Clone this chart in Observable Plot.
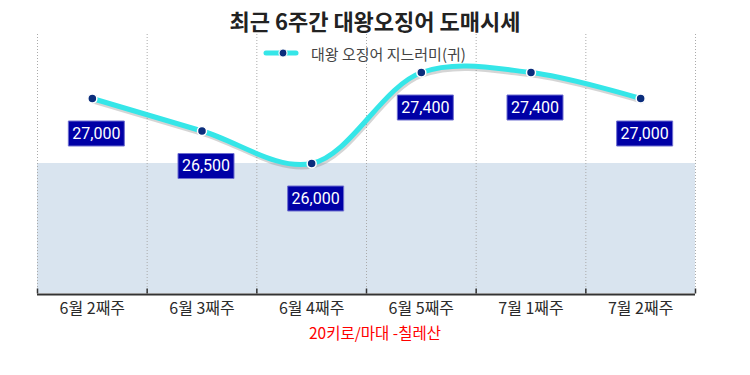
<!DOCTYPE html>
<html><head><meta charset="utf-8">
<script src="https://cdn.jsdelivr.net/npm/d3@7"></script>
<script src="https://cdn.jsdelivr.net/npm/@observablehq/plot@0.6"></script>
<style>
body{margin:0;background:#fff;font-family:"Noto Sans CJK KR","Noto Sans",sans-serif}
#wrap{position:relative;width:750px;height:375px;overflow:hidden}
#chart{position:absolute;left:0;top:0}
#title{position:absolute;left:0;width:750px;top:5px;text-align:center;font-size:22px;font-weight:bold;color:#222;line-height:30px}
#legend{position:absolute;left:262px;top:43px;height:20px;display:flex;align-items:center;font-size:15px;color:#444;white-space:nowrap}
#legend svg{margin-right:9px}
#caption{position:absolute;left:0;width:750px;top:321px;text-align:center;font-size:15.5px;color:#ff0000;line-height:22px}
</style></head>
<body>
<div id="wrap">
  <div id="chart"></div>
  <div id="title"></div>
  <div id="legend"></div>
  <div id="caption"></div>
</div>
<script>
const titleText = "최근 6주간 대왕오징어 도매시세";
const seriesName = "대왕 오징어 지느러미(귀)";
const captionText = "20키로/마대 -칠레산";
const weeks = ["6월 2째주", "6월 3째주", "6월 4째주", "6월 5째주", "7월 1째주", "7월 2째주"];
const prices = [27000, 26500, 26000, 27400, 27400, 27000];
const yDomain = [24000, 28000];
const shadeBand = [24000, 26000];

const lineColor = "#35e6e8";
const dotColor = "#0b2d7c";

document.getElementById("title").textContent = titleText;
document.getElementById("caption").textContent = captionText;
document.getElementById("legend").innerHTML =
  `<svg width="40" height="14"><line x1="4" y1="7" x2="34" y2="7" stroke="${lineColor}" stroke-width="5" stroke-linecap="round"/><circle cx="21" cy="7" r="4" fill="${dotColor}" stroke="white" stroke-width="1.2"/></svg><span></span>`;
document.querySelector("#legend span").textContent = seriesName;

const bounds = d3.range(weeks.length + 1).map(i => i - 0.5);

const boxSymbol = {draw(ctx) { ctx.rect(-28, -12.5, 56, 25); }};
const tickSymbol = {draw(ctx) { ctx.moveTo(0, 0); ctx.lineTo(0, -5); }};

const chart = Plot.plot({
  width: 750,
  height: 375,
  marginLeft: 37,
  marginRight: 55,
  marginTop: 33,
  marginBottom: 82,
  style: {fontFamily: '"Noto Sans CJK KR", "Noto Sans", sans-serif', background: "transparent"},
  x: {type: "linear", domain: [-0.5, weeks.length - 0.5], axis: null},
  y: {domain: yDomain, axis: null},
  marks: [
    Plot.rect([shadeBand], {x1: () => -0.5, x2: () => weeks.length - 0.5, y1: d => d[0], y2: d => d[1], fill: "#d9e4ef"}),
    Plot.ruleX(bounds, {x: d => d, y1: () => yDomain[0], y2: () => yDomain[1], stroke: "#aaa", strokeDasharray: "1,2", strokeWidth: 1}),
    Plot.ruleY([yDomain[0]], {y: d => d, stroke: "#333", strokeWidth: 2, dy: 1}),
    Plot.dot(bounds, {x: d => d, y: () => yDomain[0], symbol: tickSymbol, stroke: "#333", strokeWidth: 1.5, fill: "none", r: 3}),
    Plot.text(weeks, {x: (d, i) => i, y: () => yDomain[0], dy: 15, text: d => d, fontSize: 16, fill: "#2a2a2a"}),
    Plot.line(prices, {x: (d, i) => i, y: d => d, curve: "catmull-rom", stroke: "#888", strokeOpacity: 0.35, strokeWidth: 5, dx: 1, dy: 2.5}),
    Plot.line(prices, {x: (d, i) => i, y: d => d, curve: "catmull-rom", stroke: lineColor, strokeWidth: 5}),
    Plot.dot(prices, {x: (d, i) => i, y: d => d, r: 4.5, fill: dotColor, stroke: "white", strokeWidth: 1.5}),
    Plot.dot(prices, {x: (d, i) => i, y: d => d, dx: 4, dy: 35, symbol: boxSymbol, r: 5, fill: "#0000a6", stroke: "#6f6fd0", strokeWidth: 1}),
    Plot.text(prices, {x: (d, i) => i, y: d => d, dx: 4, dy: 35, text: d => d3.format(",")(d), fill: "white", fontSize: 16, fontFamily: "Roboto"})
  ]
});
document.getElementById("chart").appendChild(chart);
</script>
</body></html>
